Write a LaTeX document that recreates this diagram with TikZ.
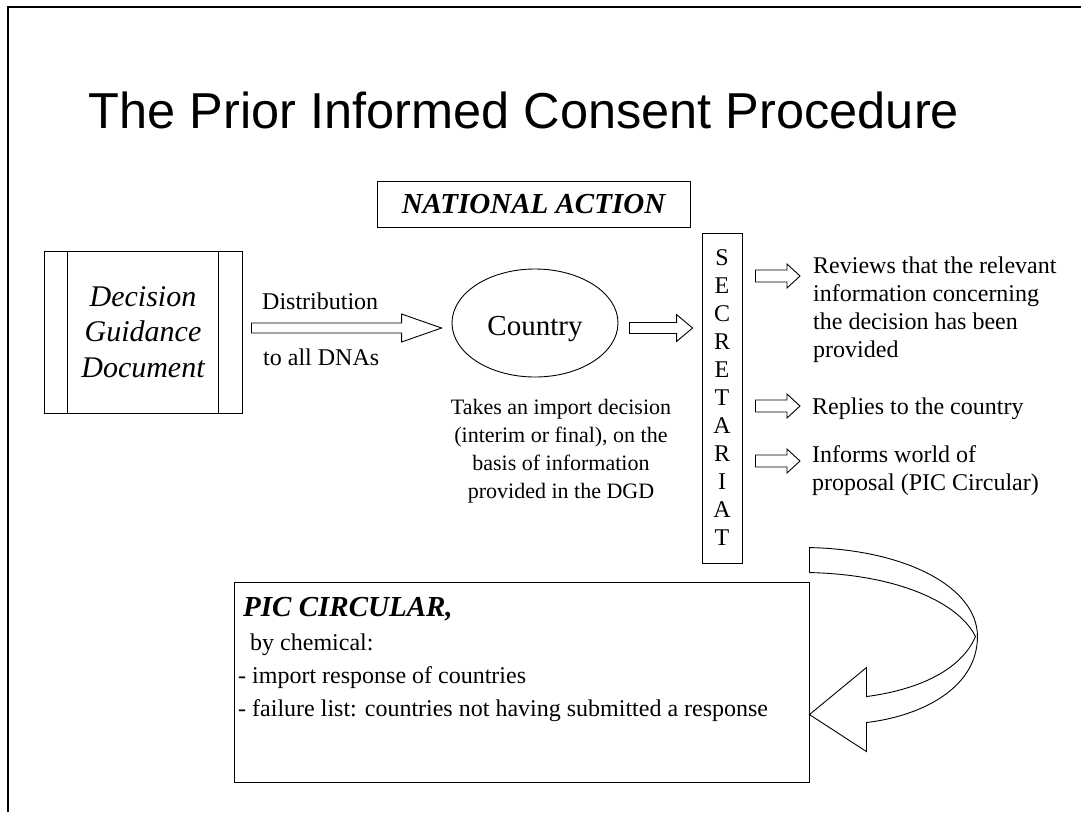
\documentclass[tikz,border=0pt]{standalone}
\usepackage{fontspec}
\setmainfont{Liberation Serif}
\newfontfamily\headfont{Liberation Sans}
\usetikzlibrary{shapes.geometric,calc}
\tikzset{box/.style={draw, line width=0.9pt, inner sep=0pt},
  txt/.style={inner sep=0pt, font=\fontsize{24}{28}\selectfont},
  fatline/.style={draw, line width=0.9pt}}

% block arrow: start, end, head length, half shaft, half head
\newcommand{\fatarrow}[5]{%
  \draw[fatline] let \p1=#1, \p2=#2 in
    (\x1,\y1+#4pt) -- (\x2-#3pt,\y1+#4pt) -- (\x2-#3pt,\y1+#5pt) -- (\x2,\y1)
    -- (\x2-#3pt,\y1-#5pt) -- (\x2-#3pt,\y1-#4pt) -- (\x1,\y1-#4pt) -- cycle;}

\begin{document}
\begin{tikzpicture}[x=1pt,y=-1pt]
\useasboundingbox (0,0) rectangle (1081,812);
\draw[line width=2.5pt] (8,812) -- (8,7) -- (1081,7);

\node[anchor=base, inner sep=0pt, font=\headfont\fontsize{50.5}{60}\selectfont] (title) at (524,128) {The Prior Informed Consent Procedure};

\node[box, minimum width=313, minimum height=46, font=\fontsize{29}{34}\selectfont\bfseries\itshape] (natact) at (533.5,204) {NATIONAL ACTION};

\node[box, minimum width=198, minimum height=162, align=center, font=\fontsize{30}{35.5}\selectfont\itshape] (dgd) at (143,332) {Decision\\Guidance\\Document};
\draw[fatline] ([xshift=24pt]dgd.north west) -- ([xshift=24pt]dgd.south west);
\draw[fatline] ([xshift=-24pt]dgd.north east) -- ([xshift=-24pt]dgd.south east);

\node[box, ellipse, minimum width=166, minimum height=108, text height=31pt, text depth=6pt, font=\fontsize{29}{34}\selectfont] (country) at (535,323) {Country};

\node[box, minimum width=40, minimum height=330] (sec) at (722,398) {};
\foreach \l [count=\i from 0] in {S,E,C,R,E,T,A,R,I,A,T}
  \node[txt] (sec\i) at (722,258+28*\i) {\l};

\node[txt, anchor=base west] (distr) at (262,309) {Distribution};
\node[txt, anchor=base west] (dnas) at (263,365) {to all DNAs};

\fatarrow{([xshift=9pt,yshift=4pt]dgd.east)}{([xshift=-10pt]country.west)}{40}{5}{14}
\fatarrow{([xshift=11pt,yshift=-5pt]country.east)}{([xshift=-9pt]sec.west)}{16}{5.5}{13.5}

\node[txt, align=center, font=\fontsize{22}{28}\selectfont] (takes) at (561,451) {Takes an import decision\\(interim or final), on the\\basis of information\\provided in the DGD};

% secretariat actions
\coordinate (revtip) at (800,276);
\coordinate (repltip) at (800,406);
\coordinate (inftip) at (800,461);
\fatarrow{($(sec.east |- revtip)+(13,0)$)}{(revtip)}{13}{6}{12}
\fatarrow{($(sec.east |- repltip)+(13,0)$)}{(repltip)}{13}{6}{12}
\fatarrow{($(sec.east |- inftip)+(13,0)$)}{(inftip)}{13}{6}{12}

\node[txt, align=left, anchor=west] (rev) at (813,310) {Reviews that the relevant\\information concerning\\the decision has been\\provided};
\node[txt, anchor=base west] (repl) at (812,414) {Replies to the country};
\node[txt, align=left, anchor=west] (inf) at (812,471) {Informs world of\\proposal (PIC Circular)};

\node[box, minimum width=575, minimum height=200] (pic) at (521.5,682) {};
\node[anchor=base west, inner sep=0pt, font=\fontsize{29}{34}\selectfont\bfseries\itshape] (pichead) at (243,616) {PIC CIRCULAR,};
\node[txt, anchor=base west] (picby) at (250,650) {by chemical:};
\node[txt, anchor=base west] (picimp) at (238,683) {- import response of countries};
\node[txt, anchor=base west] (picfail) at (238,716) {- failure list: countries not having submitted a response};

% curved return arrow
\begin{scope}[shift={(pic.north east)}]
\draw[fatline] (0,-9) -- (0,-34) .. controls (95,-32) and (168,5) .. (168,55)
  .. controls (168,105) and (115,134) .. (57,141) -- (57,170) -- (0,133) -- (57,86) -- (57,115)
  .. controls (110,108) and (152,88) .. (166,55) .. controls (150,22) and (90,-7) .. (0,-9);
\end{scope}
\end{tikzpicture}
\end{document}
